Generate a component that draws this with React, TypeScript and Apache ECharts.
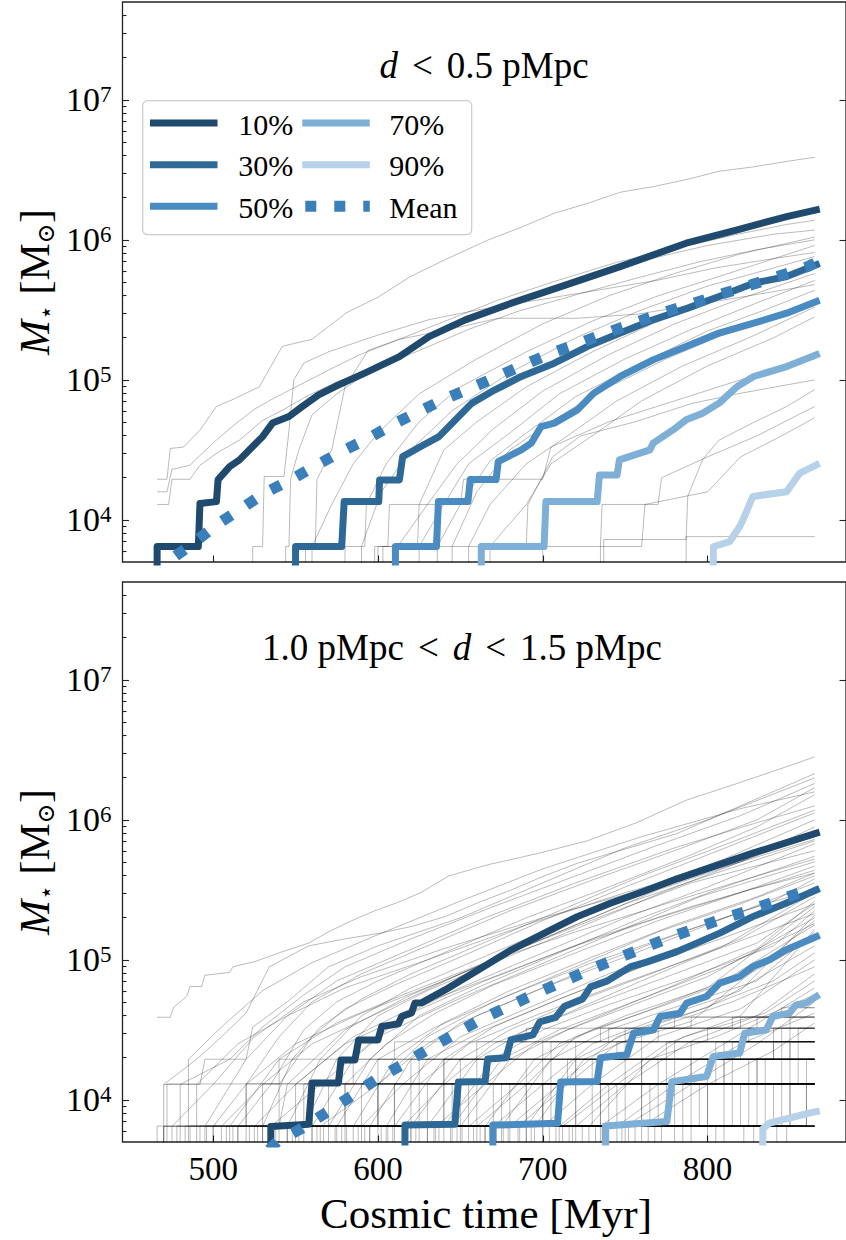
import React, { useEffect, useRef } from "react";
import * as echarts from "echarts";

const FONT = '"Liberation Serif", "DejaVu Serif", serif';
const X_MIN = 445;
const X_MAX = 884;
const Y_MIN = 5000;
const Y_MAX = 5e7;
const T_END = 865;
const X_TICKS = [500, 600, 700, 800];
const Y_MAJOR = [1e4, 1e5, 1e6, 1e7];
const Y_MINOR = [
  6e3, 7e3, 8e3, 9e3,
  2e4, 3e4, 4e4, 5e4, 6e4, 7e4, 8e4, 9e4,
  2e5, 3e5, 4e5, 5e5, 6e5, 7e5, 8e5, 9e5,
  2e6, 3e6, 4e6, 5e6, 6e6, 7e6, 8e6, 9e6,
  2e7, 3e7, 4e7,
];

const LEGEND_LABELS = ["10%", "30%", "50%", "70%", "90%", "Mean"];
const COLORS = ["#1f4a6e", "#2e6896", "#4a8bc2", "#7eafd6", "#b6d1e8", "#3a7fba"];

// ---------- top panel: d < 0.5 pMpc (time [Myr], stellar mass [Msun]) ----------
const TOP_P10 = [[466,1000],[466,6450],[491,6450],[492,13100],[502,13500],[503,19400],[510,24000],[516,26800],[524,33400],[530,39300],[536,49100],[546,54700],[554,64400],[564,78100],[574,89600],[592,111700],[613,146500],[631,203600],[653,268300],[681,353100],[711,463700],[747,644000],[787,946000],[818,1178000],[848,1466000],[866,1637000]];
const TOP_P30 = [[550,1000],[550,6450],[578,6450],[579.5,13500],[600.5,13500],[601,19300],[613,19300],[615,28300],[626,33400],[637,39300],[647,51800],[657,68200],[671,84900],[687,105700],[707,131600],[727,173000],[747,215700],[767,268300],[788,325300],[807,393600],[828,490600],[848,547000],[866,663000]];
const TOP_P50 = [[610.6,1000],[610.6,6450],[635.5,6450],[636.7,13500],[654.6,13500],[656,19400],[671.7,19400],[673,26100],[687,31600],[693,35300],[699,46400],[707,49100],[721,61000],[731,80400],[747,105700],[767,138900],[787,173000],[807,215700],[828,254000],[848,299300],[866,362300]];
const TOP_P70 = [[662.7,1000],[662.7,6450],[700.8,6450],[701.9,13500],[733,13500],[734.4,20900],[745.1,20900],[746.5,26800],[765,31600],[767,35300],[779,43900],[787,51800],[797,57800],[807,68200],[818,89600],[828,105700],[848,124500],[866,151000]];
const TOP_P90 = [[802.4,1000],[803.6,6450],[813.5,7000],[819.5,8960],[821.5,10000],[827.5,14700],[848,15900],[856,21600],[866,24700]];
const TOP_MEAN = [[468,3730],[474,5180],[488,6820],[502,9210],[516,11790],[531,15510],[547,19300],[563,24700],[578,30800],[594.5,38400],[610.6,49100],[624.7,59400],[641.6,74000],[658.6,89600],[674.7,108600],[690.8,131600],[707.9,159200],[725,187800],[741,221400],[758,260900],[775,307500],[792,353100],[809,411400],[826.5,477200],[842.6,547200],[860.7,644000],[865,682000]];

// individual haloes, [time, log10 mass]
const TOP_GRAY_LOG = [
  [[466,4.29],[472,4.29],[474,4.51],[482,4.52],[492,4.64],[502,4.81],[512,4.86],[528,4.95],[542,5.24],[560,5.29],[581,5.48],[600,5.59],[620,5.74],[641,5.86],[667,6.0],[687,6.09],[707,6.19],[727,6.26],[747,6.34],[767,6.38],[787,6.43],[807,6.49],[827,6.52],[848,6.56],[865,6.59]],
  [[466,4.2],[472,4.2],[475,4.36],[486,4.39],[492,4.46],[502,4.57],[513,4.68],[525,4.79],[537,4.87],[552,4.96],[570,5.07],[589,5.18],[613,5.29],[643,5.43],[673,5.57],[709,5.71],[745,5.84],[781,5.94],[818,6.04],[848,6.11],[865,6.14]],
  [[466,4.11],[473,4.11],[475,4.29],[486,4.29],[492,4.39],[504,4.49],[516,4.57],[530,4.71],[543,4.79],[558,4.89],[576,4.99],[601,5.09],[625,5.21],[655,5.36],[685,5.49],[721,5.61],[758,5.73],[794,5.84],[830,5.93],[865,6.0]],
  [[524,3],[524,3.81],[530,3.81],[531,4.31],[543,4.31],[546,4.64],[549,5.0],[555,5.12],[570,5.2],[600,5.32],[631,5.43],[661,5.5],[697,5.57],[733,5.64],[769,5.71],[805,5.8],[842,5.87],[865,5.91]],
  [[556,3],[556,3.81],[562,3.81],[563,4.29],[572,4.5],[580,4.95],[594,5.21],[613,5.29],[643,5.36],[673,5.44],[721,5.44],[758,5.47],[794,5.54],[830,5.61],[865,5.68]],
  [[544,3],[544,3.81],[546,3.81],[547,4.29],[552,4.5],[560,4.75],[575,4.9],[600,5.1],[640,5.35],[680,5.55],[720,5.72],[760,5.85],[800,5.96],[840,6.04],[865,6.07]],
  [[560,3],[560,3.81],[572,4.11],[585,4.4],[600,4.62],[625,4.9],[660,5.15],[700,5.4],[740,5.6],[780,5.76],[820,5.9],[865,6.02]],
  [[580,3],[580,3.81],[592,3.81],[593,4.11],[605,4.4],[625,4.7],[650,4.95],[690,5.2],[730,5.42],[770,5.6],[810,5.75],[865,5.96]],
  [[590,3],[590,3.81],[602,4.2],[620,4.5],[645,4.78],[680,5.05],[720,5.3],[760,5.5],[800,5.67],[865,5.88]],
  [[600,3],[600,3.81],[624,3.81],[625,4.11],[640,4.5],[660,4.7],[690,4.95],[730,5.2],[770,5.42],[810,5.6],[865,5.81]],
  [[612,3],[612,3.81],[630,4.11],[648,4.4],[670,4.65],[700,4.92],[740,5.18],[780,5.4],[820,5.58],[865,5.76]],
  [[625,3],[625,3.81],[640,4.11],[655,4.4],[680,4.62],[710,4.9],[750,5.15],[790,5.36],[830,5.55],[865,5.71]],
  [[636,3],[636,3.81],[650,4.11],[668,4.42],[690,4.62],[720,4.88],[760,5.12],[800,5.35],[835,5.5],[865,5.64]],
  [[645,3],[645,3.81],[660,4.2],[680,4.5],[705,4.7],[735,4.92],[775,5.15],[815,5.35],[865,5.57]],
  [[655,3],[655,3.81],[668,4.11],[690,4.4],[715,4.6],[745,4.85],[785,5.1],[825,5.3],[865,5.52]],
  [[668,3],[668,3.81],[690,4.11],[705,4.4],[730,4.6],[760,4.85],[800,5.1],[840,5.3],[865,5.45]],
  [[737,3],[737,3.86],[787,3.86],[788,4.17],[797,4.43],[807,4.57],[827,4.69],[848,4.81],[865,4.93]],
  [[700,3],[700,3.81],[735,3.81],[736,4.11],[770,4.11],[772,4.3],[800,4.45],[830,4.6],[865,4.81]],
  [[735,3],[735,3.81],[760,3.81],[762,4.11],[800,4.2],[820,4.45],[845,4.6],[865,4.73]],
  [[787,3],[787,3.88],[865,3.88]],
  [[598,3],[598,3.81],[606,3.81],[607,4.11],[650,4.11],[652,4.29],[700,4.29],[705,4.52],[740,4.7],[780,4.85],[820,5.0],[865,5.15]],
  [[603,3],[603,3.81],[690,3.81],[691,4.11],[706,4.45],[723,4.6],[756,4.7],[790,4.83],[818,4.9],[865,5.0]],
];

// ---------- bottom panel: 1.0 < d < 1.5 pMpc ----------
const BOT_P10 = [[535,1000],[535,6450],[558,6700],[560,13200],[576,13200],[577.6,19300],[586,19300],[588.3,26800],[600,26800],[602.3,33400],[612.4,34900],[614.4,39400],[620.4,41800],[622.4,49100],[626.4,49300],[640.7,61000],[660.8,84800],[681,117900],[701,155200],[721,203600],[741,254000],[761,307500],[781.5,379000],[827.5,578000],[866,803000]];
const BOT_P30 = [[616.4,1000],[616.4,6600],[646.7,6700],[648.8,13400],[665,13500],[666.6,19600],[677.7,20000],[680.7,26800],[694,29100],[698.2,36100],[707.9,38800],[713,46400],[724.2,52600],[729,64100],[739.3,70800],[753.1,89100],[763.4,96800],[781.5,114500],[807.4,155200],[827.5,203600],[847.6,254000],[866,316200]];
const BOT_P50 = [[669.7,1000],[669.7,6600],[709,6800],[710.9,13400],[733,13500],[735,20000],[751,21000],[755.1,29900],[767.2,31600],[771.2,39400],[783.3,41600],[787.3,49100],[799.4,54700],[807.4,68200],[819.5,76000],[827.5,89600],[837.6,100000],[847.6,117900],[866,146600]];
const BOT_P70 = [[738.1,1000],[738.1,6500],[775.3,7000],[778.3,13500],[799.4,14700],[803.4,20400],[819.5,21600],[822.5,29900],[835.6,31600],[839.6,39400],[849.6,41600],[853.7,47700],[859.7,49100],[866,54700]];
const BOT_P90 = [[833.5,1000],[833.5,6200],[837.5,6820],[861.6,8040],[866,8250]];
const BOT_MEAN = [[534,4400],[539,5040],[554,6280],[569,8170],[584,10680],[599,14060],[614.6,17780],[629.7,22760],[645.8,29140],[661.9,37270],[677.9,45800],[694,56200],[710,68200],[726,82400],[743,100000],[760,119900],[776,142900],[793,168300],[810,198500],[826.5,227600],[843.6,268300],[860.7,316200],[865,325300]];

const BOTTOM_GRAY_LOG = [
  [[466,4.59],[474,4.59],[476,4.66],[484,4.74],[486,4.81],[493,4.81],[495,4.89],[510,4.91],[512,4.95],[526,4.99],[540,5.05],[558,5.12],[570,5.2],[586,5.29],[598,5.35],[612,5.41],[626,5.48],[643,5.6],[667,5.68],[697,5.76],[727,5.85],[757,5.98],[787,6.14],[818,6.26],[848,6.38],[865,6.45]],
  [[470,4.11],[490,4.29],[505,4.45],[520,4.62],[534,4.95],[558,5.1],[580,5.15],[601,5.19],[621,5.24],[641,5.31],[661,5.41],[681,5.5],[701,5.6],[721,5.69],[741,5.76],[761,5.83],[781,5.9],[820,6.1],[865,6.33]],
  [[470,3],[470,4.11],[492,4.11],[495,4.29],[520,4.29],[524,4.52],[545,4.7],[570,4.95],[600,5.1],[650,5.3],[700,5.55],[750,5.8],[800,6.0],[865,6.3]],
  [[480,3],[480,4.11],[510,4.29],[530,4.52],[555,4.75],[580,4.95],[620,5.15],[670,5.38],[720,5.6],[770,5.82],[820,6.03],[865,6.26]],
  [[500,3],[500,3.81],[520,4.11],[540,4.45],[560,4.7],[590,4.9],[630,5.1],[680,5.35],[730,5.57],[780,5.78],[830,6.0],[865,6.23]],
  [[515,3],[515,3.81],[535,4.11],[555,4.5],[575,4.7],[600,4.85],[640,5.05],[690,5.3],[740,5.52],[790,5.75],[830,5.95],[865,6.18]],
  [[530,3],[530,3.81],[548,4.29],[565,4.52],[590,4.72],[620,4.9],[660,5.1],[710,5.35],[760,5.6],[810,5.82],[865,6.07]],
  [[540,3],[540,4.11],[560,4.45],[580,4.65],[610,4.82],[650,5.02],[700,5.28],[750,5.52],[800,5.75],[865,6.05]],
  [[545,3],[545,3.81],[565,4.29],[590,4.6],[620,4.8],[660,5.0],[710,5.25],[760,5.5],[810,5.72],[865,6.0]],
  [[555,3],[555,3.81],[575,4.29],[600,4.6],[630,4.78],[670,4.98],[720,5.22],[770,5.47],[820,5.7],[865,5.95]],
  [[470,3],[470,3.81],[540,3.81],[545,4.11],[580,4.5],[620,4.75],[670,5.0],[720,5.25],[770,5.5],[820,5.7],[865,5.9]],
  [[560,3],[560,3.81],[585,4.29],[615,4.6],[650,4.8],[700,5.05],[750,5.3],[800,5.52],[865,5.83]],
  [[570,3],[570,3.81],[595,4.29],[625,4.6],[660,4.8],[710,5.05],[760,5.3],[810,5.52],[865,5.74]],
  [[580,3],[580,4.11],[605,4.4],[635,4.62],[670,4.82],[720,5.05],[770,5.28],[820,5.48],[865,5.67]],
  [[585,3],[585,3.81],[610,4.29],[640,4.55],[680,4.78],[730,5.02],[780,5.25],[830,5.45],[865,5.62]],
  [[595,3],[595,3.81],[620,4.29],[650,4.55],[690,4.75],[740,5.0],[790,5.22],[840,5.42],[865,5.58]],
  [[600,3],[600,4.11],[630,4.4],[660,4.6],[700,4.8],[750,5.02],[800,5.25],[865,5.55]],
  [[610,3],[610,3.81],[640,4.29],[670,4.52],[710,4.72],[760,4.95],[810,5.2],[865,5.5]],
  [[620,3],[620,3.81],[650,4.29],[680,4.5],[720,4.7],[770,4.92],[820,5.15],[865,5.45]],
  [[630,3],[630,3.81],[660,4.29],[690,4.5],[730,4.68],[780,4.9],[830,5.12],[865,5.4]],
  [[640,3],[640,3.81],[670,4.29],[700,4.5],[740,4.68],[790,4.88],[840,5.1],[865,5.35]],
  [[650,3],[650,3.81],[680,4.29],[715,4.5],[755,4.68],[800,4.88],[865,5.3]],
  [[660,3],[660,3.81],[690,4.11],[720,4.45],[760,4.62],[810,4.85],[865,5.25]],
  [[675,3],[675,3.81],[705,4.29],[740,4.5],[780,4.66],[830,4.85],[865,5.2]],
  [[690,3],[690,3.81],[720,4.29],[755,4.5],[800,4.66],[865,5.1]],
  [[700,3],[700,3.81],[730,4.11],[770,4.45],[820,4.65],[865,5.0]],
  [[720,3],[720,3.81],[750,4.11],[790,4.42],[830,4.6],[865,4.9]],
  [[735,3],[735,3.81],[770,4.11],[810,4.4],[865,4.8]],
  [[750,3],[750,3.81],[790,4.11],[830,4.4],[865,4.7]],
  [[505,3],[505,3.81],[530,4.11],[560,4.4],[600,4.62],[650,4.9],[700,5.15],[750,5.4],[800,5.6],[865,5.85]],
  [[520,3],[520,4.11],[550,4.4],[590,4.62],[640,4.85],[690,5.1],[740,5.33],[790,5.55],[865,5.78]],
  [[535,3],[535,3.81],[565,4.11],[600,4.45],[645,4.7],[695,4.95],[745,5.2],[795,5.45],[865,5.7]],
  [[565,3],[565,3.81],[600,4.11],[630,4.45],[670,4.7],[720,4.95],[770,5.2],[820,5.4],[865,5.6]],
  [[590,3],[590,3.81],[615,4.11],[650,4.45],[690,4.65],[740,4.9],[790,5.12],[840,5.35],[865,5.52]],
  [[615,3],[615,3.81],[640,4.11],[670,4.4],[715,4.62],[760,4.85],[810,5.1],[865,5.48]],
  [[635,3],[635,3.81],[665,4.11],[695,4.4],[735,4.6],[780,4.82],[830,5.08],[865,5.42]],
  [[655,3],[655,3.81],[685,4.11],[710,4.4],[750,4.6],[800,4.8],[865,5.38]],
  [[670,3],[670,3.81],[700,4.11],[730,4.4],[770,4.58],[820,4.78],[865,5.32]],
  [[685,3],[685,3.81],[715,4.11],[745,4.4],[790,4.56],[865,5.28]],
  [[710,3],[710,3.81],[740,4.11],[775,4.4],[820,4.6],[865,5.22]],
  [[475,3],[475,3.81],[500,4.11],[525,4.45],[555,4.7],[590,4.88],[640,5.08],[700,5.3],[760,5.5],[820,5.7],[865,5.86]],
  [[490,3],[490,4.11],[515,4.4],[545,4.6],[580,4.8],[630,5.0],[690,5.25],[750,5.48],[810,5.68],[865,5.88]],
  [[510,3],[510,3.81],[540,4.29],[575,4.55],[615,4.75],[665,4.98],[720,5.2],[780,5.42],[830,5.6],[865,5.72]],
  [[525,3],[525,3.81],[550,4.11],[585,4.45],[625,4.68],[675,4.9],[730,5.15],[790,5.38],[840,5.55],[865,5.64]],
  [[550,3],[550,4.11],[580,4.4],[620,4.62],[665,4.85],[715,5.08],[770,5.3],[825,5.5],[865,5.62]],
  [[575,3],[575,3.81],[600,4.29],[635,4.52],[680,4.75],[730,4.98],[785,5.2],[835,5.4],[865,5.5]],
  [[605,3],[605,3.81],[630,4.29],[665,4.5],[710,4.72],[760,4.95],[815,5.18],[865,5.4]],
  [[625,3],[625,4.11],[655,4.4],[695,4.6],[745,4.82],[800,5.05],[865,5.33]],
  [[645,3],[645,3.81],[675,4.29],[710,4.5],[755,4.7],[810,4.95],[865,5.26]],
  [[665,3],[665,3.81],[695,4.29],[730,4.5],[775,4.68],[825,4.9],[865,5.15]],
  [[680,3],[680,3.81],[710,4.11],[745,4.45],[790,4.62],[840,4.85],[865,5.05]],
  [[695,3],[695,3.81],[725,4.29],[765,4.5],[815,4.7],[865,4.95]],
  [[712,3],[712,3.81],[745,4.11],[785,4.45],[835,4.62],[865,4.85]],
  [[728,3],[728,3.81],[765,4.29],[805,4.45],[865,4.75]],
  [[745,3],[745,3.81],[780,4.11],[820,4.4],[865,4.62]],
  [[760,3],[760,3.81],[800,4.11],[840,4.35],[865,4.55]],
  [[485,3],[485,4.29],[505,4.52],[530,4.78],[560,4.98],[600,5.18],[650,5.42],[700,5.65],[760,5.88],[820,6.08],[865,6.2]],
  [[495,3],[495,3.81],[520,4.29],[545,4.6],[575,4.85],[615,5.05],[665,5.3],[720,5.55],[780,5.8],[830,5.98],[865,6.1]],
];

// low-mass haloes growing one star particle at a time: [time, mass in 1e3 Msun]
const BOTTOM_STEPS = [
  [[466,6.5],[560,13],[640,19.5],[720,26],[800,32.5]],
  [[472,13],[540,19.5],[610,26],[690,32.5],[780,39]],
  [[478,6.5],[600,13],[700,19.5],[820,26]],
  [[486,6.5],[520,13],[585,19.5],[660,26],[740,32.5],[830,39]],
  [[492,6.5],[650,13],[790,19.5]],
  [[500,6.5],[555,13],[625,19.5],[705,26],[770,32.5],[850,45.5]],
  [[508,6.5],[700,13]],
  [[515,6.5],[590,13],[665,19.5],[760,26]],
  [[522,6.5],[610,13],[730,19.5],[840,26]],
  [[530,6.5],[580,13],[640,19.5],[700,26],[760,32.5],[815,39]],
  [[538,6.5],[675,13],[800,19.5]],
  [[545,6.5],[620,13],[690,19.5],[775,26],[845,32.5]],
  [[552,6.5],[740,13]],
  [[560,6.5],[630,13],[715,19.5],[805,26]],
  [[567,6.5],[660,13],[760,19.5],[850,26]],
  [[574,6.5],[705,13],[835,19.5]],
  [[581,6.5],[645,13],[720,19.5],[790,26],[855,32.5]],
  [[588,6.5],[770,13]],
  [[595,6.5],[680,13],[770,19.5],[855,26]],
  [[602,6.5],[720,13],[830,19.5]],
  [[609,6.5],[655,13],[735,19.5],[815,26]],
  [[616,6.5],[800,13]],
  [[623,6.5],[700,13],[790,19.5]],
  [[630,6.5],[750,13],[860,19.5]],
  [[637,6.5],[690,13],[780,19.5],[850,26]],
  [[644,6.5],[825,13]],
  [[651,6.5],[730,13],[815,19.5]],
  [[658,6.5],[780,13]],
  [[665,6.5],[720,13],[805,19.5]],
  [[672,6.5],[845,13]],
  [[679,6.5],[760,13],[850,19.5]],
  [[686,6.5],[800,13]],
  [[693,6.5],[745,13],[830,19.5]],
  [[700,6.5],[860,13]],
  [[708,6.5],[785,13]],
  [[716,6.5],[820,13]],
  [[724,6.5],[775,13],[855,19.5]],
  [[732,6.5],[840,13]],
  [[740,6.5],[810,13]],
  [[748,6.5]],
  [[756,6.5],[835,13]],
  [[764,6.5]],
  [[772,6.5],[850,13]],
  [[780,6.5]],
  [[790,6.5]],
  [[800,6.5],[860,13]],
  [[810,6.5]],
  [[822,6.5]],
  [[835,6.5]],
  [[848,6.5]],
  [[470,6.5],[530,13],[600,19.5],[680,26],[750,32.5],[820,39]],
  [[483,6.5],[570,13],[650,19.5],[750,26],[840,32.5]],
  [[496,6.5],[610,13],[720,19.5],[810,26]],
  [[512,6.5],[560,13],[620,19.5],[680,26],[735,32.5],[790,39],[845,45.5]],
  [[527,6.5],[640,13],[760,19.5]],
  [[548,6.5],[600,13],[660,19.5],[745,26],[825,32.5]],
  [[563,6.5],[690,13],[810,19.5]],
  [[578,6.5],[640,13],[705,19.5],[780,26],[850,32.5]],
  [[592,6.5],[735,13]],
  [[606,6.5],[670,13],[750,19.5],[840,26]],
  [[620,6.5],[710,13],[810,19.5]],
  [[634,6.5],[765,13]],
  [[648,6.5],[700,13],[775,19.5],[845,26]],
  [[662,6.5],[790,13]],
  [[676,6.5],[735,13],[825,19.5]],
  [[690,6.5],[815,13]],
  [[704,6.5],[760,13],[845,19.5]],
  [[718,6.5],[850,13]],
  [[736,6.5],[795,13]],
  [[752,6.5]],
  [[768,6.5],[830,13]],
  [[785,6.5]],
  [[805,6.5]],
  [[828,6.5]],
  [[842,6.5]],
];

const PANELS = [
  { gray: TOP_GRAY_LOG, steps: [] as number[][][], pct: [TOP_P10, TOP_P30, TOP_P50, TOP_P70, TOP_P90], mean: TOP_MEAN },
  { gray: BOTTOM_GRAY_LOG, steps: BOTTOM_STEPS, pct: [BOT_P10, BOT_P30, BOT_P50, BOT_P70, BOT_P90], mean: BOT_MEAN },
];

const GRID_LEFT = 122.5;
const GRID_W = 728;
const GRID_H = 560;
const GRID_TOPS = [2, 582];

function buildOption() {
  const grid = GRID_TOPS.map((top) => ({
    left: GRID_LEFT, top, width: GRID_W, height: GRID_H,
    show: true, borderColor: "#222", borderWidth: 1.3, backgroundColor: "transparent",
  }));
  const tickLine = { color: "#222", width: 1.1 };
  const xAxis = [0, 1].map((i) => ({
    type: "value", gridIndex: i, min: X_MIN, max: X_MAX,
    axisLine: { show: false }, splitLine: { show: false },
    axisTick: { show: true, inside: true, length: 6.5, lineStyle: tickLine, customValues: X_TICKS },
    axisLabel: { show: i === 1, customValues: X_TICKS, fontFamily: FONT, fontSize: 33, color: "#000", margin: 10 },
  }));
  const yAxis: any[] = [];
  [0, 1].forEach((i) => {
    const base = { type: "log", logBase: 10, gridIndex: i, min: Y_MIN, max: Y_MAX, axisLine: { show: false }, splitLine: { show: false } };
    yAxis.push({
      ...base, position: "left",
      axisTick: { show: true, inside: true, length: 6.5, lineStyle: tickLine, customValues: Y_MAJOR },
      axisLabel: {
        show: true, customValues: Y_MAJOR, margin: 11, color: "#000",
        formatter: (v: number) => `{a|10}{b|${Math.round(Math.log10(v))}}`,
        rich: {
          a: { fontFamily: FONT, fontSize: 34, lineHeight: 34, color: "#000" },
          b: { fontFamily: FONT, fontSize: 23, lineHeight: 20, verticalAlign: "top", color: "#000" },
        },
      },
    });
    yAxis.push({
      ...base, position: "left",
      axisTick: { show: true, inside: true, length: 4, lineStyle: tickLine, customValues: Y_MINOR },
      axisLabel: { show: false },
    });
    yAxis.push({
      ...base, position: "right",
      axisTick: { show: true, inside: true, length: 6.5, lineStyle: tickLine, customValues: Y_MAJOR },
      axisLabel: { show: false },
    });
  });

  const series: any[] = [];
  PANELS.forEach((p, i) => {
    const xi = i, yi = i * 3;
    p.gray.forEach((line) => {
      series.push({
        type: "line", xAxisIndex: xi, yAxisIndex: yi, symbol: "none", silent: true, z: 1,
        data: line.map(([t, lg]) => [t, Math.pow(10, lg)]),
        lineStyle: { color: "#000", opacity: 0.3, width: 0.9 },
      });
    });
    p.steps.forEach((line) => {
      const last = line[line.length - 1][1];
      // below-axis anchor before formation, held at the last level to the final snapshot
      const pts = [[line[0][0], 1], ...line, [T_END, last]];
      series.push({
        type: "line", xAxisIndex: xi, yAxisIndex: yi, symbol: "none", silent: true, z: 1, step: "end",
        data: pts.map(([t, m]) => [t, m * 1000]),
        lineStyle: { color: "#000", opacity: 0.3, width: 0.9 },
      });
    });
    p.pct.forEach((d, k) => {
      series.push({
        type: "line", xAxisIndex: xi, yAxisIndex: yi, symbol: "none", silent: true, z: 3,
        name: LEGEND_LABELS[k], data: d,
        lineStyle: { color: COLORS[k], width: 7, cap: "square", join: "round" },
      });
    });
    series.push({
      type: "line", xAxisIndex: xi, yAxisIndex: yi, symbol: "none", silent: true, z: 4,
      name: LEGEND_LABELS[5], data: p.mean,
      lineStyle: { color: COLORS[5], width: 11, type: [11, 18], cap: "butt" },
    });
  });

  const rowsY = [123, 164.7, 206.3];
  const legendChildren: any[] = [
    { type: "rect", shape: { x: 142.7, y: 100.7, width: 329, height: 134, r: 5 }, style: { fill: "rgba(255,255,255,0.85)", stroke: "#cccccc", lineWidth: 1.2 } },
  ];
  LEGEND_LABELS.forEach((lab, k) => {
    const col = k < 3 ? 0 : 1;
    const y = rowsY[k % 3];
    const x1 = col === 0 ? 150 : 302.3;
    const tx = col === 0 ? 238.3 : 389.3;
    const isMean = k === 5;
    legendChildren.push({
      type: "line", shape: { x1, y1: y, x2: x1 + 67.5, y2: y },
      style: { stroke: COLORS[k], lineWidth: isMean ? 11 : 7, lineDash: isMean ? [11, 18] : null, lineDashOffset: isMean ? -3 : 0, lineCap: "butt" },
    });
    legendChildren.push({
      type: "text", x: tx, y: y + 1,
      style: { text: lab, font: `30px ${FONT}`, fill: "#000", textAlign: "left", textVerticalAlign: "middle", align: "left", verticalAlign: "middle" },
    });
  });

  const relRich = {
    i: { fontFamily: FONT, fontSize: 37, fontStyle: "italic", color: "#000" },
    n: { fontFamily: FONT, fontSize: 37, color: "#000" },
    o: { fontFamily: FONT, fontSize: 37, color: "#000", padding: [0, 14, 0, 14] },
  };
  const yLabelRich = {
    m: { fontFamily: FONT, fontSize: 42, fontStyle: "italic", lineHeight: 46, color: "#000" },
    n: { fontFamily: FONT, fontSize: 42, lineHeight: 46, color: "#000" },
    s: { fontFamily: FONT, fontSize: 24, lineHeight: 20, verticalAlign: "bottom", color: "#000" },
  };
  const yLabel = (cy: number) => ({
    type: "text", x: 35, y: cy, rotation: Math.PI / 2,
    style: { text: "{m|M}{s|⋆}{n| [M}{s|⊙}{n|]}", rich: yLabelRich, textAlign: "center", textVerticalAlign: "middle", align: "center", verticalAlign: "middle" },
  });

  const graphic = [
    {
      type: "text", x: 484, y: 65, z: 50,
      style: { text: "{i|d}{o|<}{n|0.5 pMpc}", rich: relRich, textAlign: "center", textVerticalAlign: "middle", align: "center", verticalAlign: "middle" },
    },
    {
      type: "text", x: 462, y: 647, z: 50,
      style: { text: "{n|1.0 pMpc}{o|<}{i|d}{o|<}{n|1.5 pMpc}", rich: relRich, textAlign: "center", textVerticalAlign: "middle", align: "center", verticalAlign: "middle" },
    },
    yLabel(282),
    yLabel(862),
    {
      type: "text", x: 486, y: 1213,
      style: { text: "Cosmic time [Myr]", font: `43px ${FONT}`, fill: "#000", textAlign: "center", textVerticalAlign: "middle", align: "center", verticalAlign: "middle" },
    },
    { type: "group", z: 100, children: legendChildren },
  ];

  return { animation: false, backgroundColor: "#fff", grid, xAxis, yAxis, series, graphic };
}

export default function App() {
  const ref = useRef<HTMLDivElement>(null);
  useEffect(() => {
    if (!ref.current) return;
    const chart = echarts.init(ref.current, undefined, { renderer: "svg" });
    chart.setOption(buildOption() as any);
    return () => chart.dispose();
  }, []);
  return <div ref={ref} style={{ position: "absolute", left: 0, top: 0, width: 846, height: 1240 }} />;
}
